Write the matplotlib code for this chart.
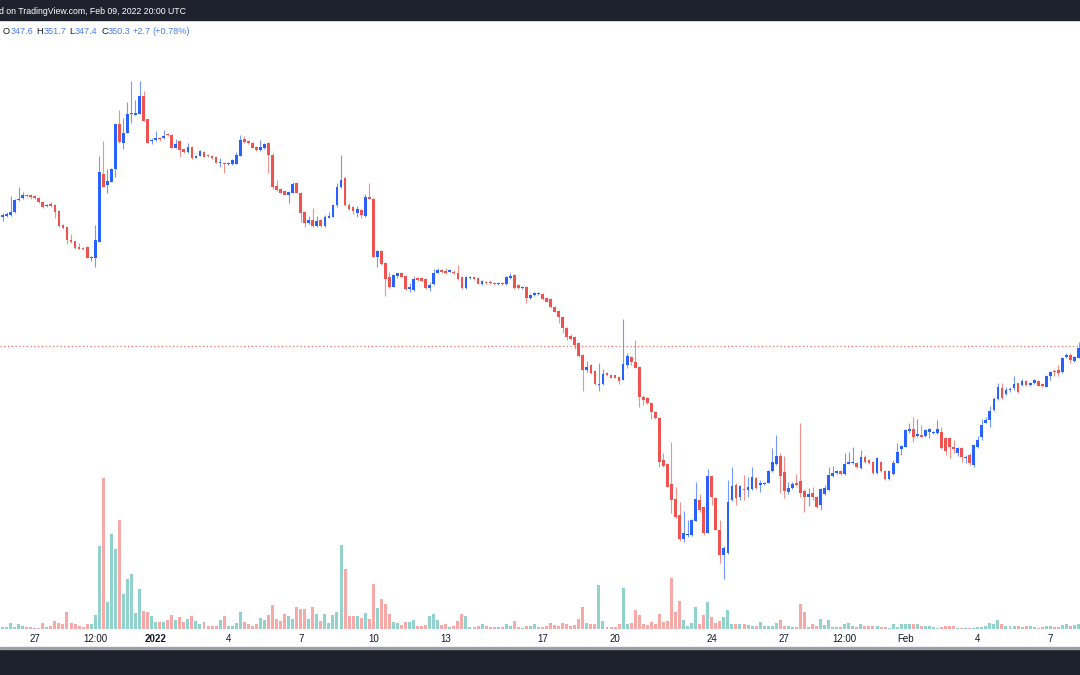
import matplotlib
matplotlib.use('Agg')
import matplotlib.pyplot as plt
import numpy as np
import pandas as pd

# 4h candles, first bar 2021-12-25 16:00 UTC
start_time = '2021-12-25 16:00'

opens = [479, 480, 481, 484, 496, 498, 501, 501, 500, 498,
         494, 490, 492, 491, 485, 471, 469, 456, 455, 449,
         448, 449, 438, 438, 454, 522, 511, 514, 527, 572,
         553, 563, 582, 581, 582, 600, 577, 555, 556, 558,
         558, 562, 561, 548, 555, 547, 544, 549, 538, 540,
         544, 541, 540, 539, 533, 533, 532, 532, 532, 540,
         557, 555, 553, 549, 546, 548, 553, 541, 510, 507,
         505, 501, 503, 513, 503, 484, 473, 476, 470, 476,
         470, 478, 479, 491, 509, 518, 491, 489, 483, 486,
         480, 499, 497, 439, 445, 433, 419, 409, 420, 423,
         420, 407, 406, 418, 418, 417, 408, 412, 423, 426,
         425, 424, 424, 423, 419, 408, 418, 419, 418, 412,
         414, 414, 413, 412, 413, 412, 418, 421, 411, 408,
         409, 398, 401, 402, 402, 398, 397, 389, 385, 379,
         368, 360, 359, 353, 341, 326, 331, 325, 311, 312,
         323, 321, 321, 319, 316, 331, 339, 334, 329, 299,
         298, 293, 284, 278, 236, 232, 212, 197, 181, 157,
         161, 161, 175, 196, 189, 163, 220, 198, 166, 141,
         143, 196, 211, 199, 207, 206, 207, 218, 211, 212,
         213, 225, 232, 240, 224, 204, 208, 213, 215, 205,
         199, 203, 199, 191, 202, 206, 220, 223, 225, 222,
         232, 233, 233, 228, 239, 236, 234, 223, 234, 225,
         217, 222, 233, 247, 249, 265, 267, 260, 261, 260,
         264, 263, 263, 264, 258, 258, 249, 243, 248, 238,
         241, 231, 249, 259, 273, 276, 286, 297, 308, 302,
         306, 308, 313, 311, 315, 311, 313, 315, 312, 309,
         320, 325, 326, 324, 339, 341, 335, 338]

highs = [483, 484, 500, 497, 509, 504, 502, 502, 501, 499,
         495, 492, 494, 492, 486, 472, 470, 462, 455, 453,
         449, 450, 440, 471, 540, 555, 527, 528, 572, 586,
         578, 594, 615, 596, 615, 605, 577, 558, 565, 559,
         566, 563, 562, 557, 556, 548, 553, 550, 541, 546,
         545, 542, 541, 540, 538, 534, 534, 537, 544, 561,
         560, 556, 554, 550, 556, 553, 554, 543, 516, 508,
         506, 505, 514, 514, 504, 485, 480, 488, 480, 477,
         481, 484, 492, 513, 541, 519, 493, 490, 490, 487,
         502, 513, 498, 446, 446, 434, 424, 422, 423, 424,
         421, 413, 420, 419, 419, 418, 414, 427, 428, 427,
         428, 427, 426, 431, 420, 420, 420, 420, 418, 416,
         415, 416, 414, 414, 414, 420, 423, 422, 412, 410,
         410, 402, 404, 404, 403, 399, 398, 390, 386, 380,
         369, 362, 360, 354, 342, 335, 332, 326, 333, 327,
         324, 322, 321, 320, 377, 343, 340, 356, 330, 301,
         299, 294, 285, 279, 243, 233, 254, 209, 194, 185,
         176, 177, 214, 202, 190, 227, 221, 199, 176, 150,
         216, 229, 213, 211, 221, 219, 229, 219, 216, 214,
         226, 248, 261, 243, 240, 214, 214, 222, 273, 207,
         208, 209, 200, 208, 211, 229, 230, 226, 226, 243,
         244, 249, 234, 246, 241, 237, 235, 239, 235, 226,
         226, 236, 253, 251, 267, 273, 279, 277, 271, 267,
         268, 265, 276, 269, 259, 259, 256, 249, 249, 241,
         243, 251, 260, 277, 279, 290, 299, 313, 313, 309,
         309, 320, 313, 317, 316, 314, 317, 316, 313, 321,
         325, 327, 331, 339, 343, 343, 340, 354]

lows = [475, 479, 480, 483, 495, 497, 499, 497, 497, 493,
        488, 489, 489, 478, 469, 467, 452, 453, 447, 447,
        446, 438, 435, 429, 454, 509, 503, 514, 519, 553,
        547, 563, 573, 581, 582, 575, 553, 552, 555, 555,
        557, 560, 548, 548, 539, 543, 543, 537, 538, 540,
        539, 539, 537, 533, 529, 523, 531, 531, 532, 540,
        553, 552, 548, 545, 545, 547, 523, 507, 505, 503,
        501, 493, 503, 503, 474, 469, 472, 469, 469, 469,
        469, 478, 479, 489, 508, 490, 486, 482, 479, 478,
        479, 497, 439, 429, 431, 400, 408, 409, 418, 419,
        406, 404, 405, 415, 415, 407, 405, 411, 423, 423,
        422, 424, 422, 416, 407, 407, 417, 416, 412, 411,
        412, 412, 411, 411, 411, 411, 417, 407, 407, 407,
        393, 397, 400, 401, 396, 394, 388, 384, 373, 363,
        356, 356, 347, 339, 305, 324, 322, 311, 305, 311,
        320, 318, 318, 312, 316, 328, 331, 328, 289, 291,
        292, 277, 277, 229, 229, 209, 183, 178, 155, 154,
        159, 160, 175, 184, 161, 163, 191, 166, 133, 117,
        142, 195, 191, 196, 196, 199, 206, 207, 204, 211,
        213, 224, 231, 203, 198, 202, 207, 210, 199, 184,
        190, 196, 188, 186, 201, 205, 219, 222, 221, 221,
        232, 232, 228, 227, 233, 232, 222, 222, 224, 216,
        216, 221, 233, 241, 249, 263, 254, 259, 259, 259,
        258, 262, 262, 247, 241, 238, 243, 240, 234, 233,
        231, 229, 248, 256, 273, 269, 285, 296, 297, 301,
        304, 306, 303, 310, 310, 310, 312, 310, 309, 309,
        316, 320, 320, 323, 338, 333, 334, 338]

closes = [481, 482, 484, 496, 497, 501, 500, 499, 498, 494,
          489, 491, 490, 484, 470, 468, 456, 454, 448, 447,
          447, 438, 439, 456, 524, 509, 515, 527, 572, 554,
          563, 582, 583, 583, 600, 575, 553, 556, 558, 557,
          560, 561, 548, 552, 546, 544, 549, 538, 540, 545,
          539, 540, 538, 533, 534, 532, 533, 536, 541, 556,
          554, 553, 548, 546, 549, 552, 541, 509, 506, 503,
          501, 504, 512, 503, 483, 473, 476, 470, 475, 470,
          479, 480, 491, 509, 516, 491, 487, 485, 487, 481,
          499, 497, 439, 445, 432, 417, 409, 421, 423, 419,
          407, 409, 417, 416, 415, 408, 411, 423, 426, 424,
          423, 426, 423, 417, 408, 419, 419, 417, 412, 415,
          413, 413, 412, 413, 412, 419, 420, 408, 408, 409,
          398, 401, 403, 403, 397, 394, 389, 384, 379, 368,
          359, 357, 351, 340, 326, 329, 323, 312, 312, 322,
          321, 318, 318, 315, 332, 340, 334, 328, 299, 296,
          293, 284, 278, 234, 230, 209, 196, 179, 157, 163,
          162, 176, 197, 186, 163, 220, 199, 166, 141, 148,
          194, 210, 198, 210, 206, 209, 219, 208, 213, 213,
          225, 234, 240, 220, 205, 208, 212, 211, 203, 199,
          202, 199, 189, 207, 208, 221, 223, 225, 222, 232,
          234, 234, 229, 239, 234, 233, 223, 238, 225, 217,
          225, 233, 244, 250, 266, 267, 259, 262, 259, 266,
          267, 264, 267, 248, 245, 249, 247, 248, 239, 239,
          233, 251, 256, 271, 276, 285, 297, 309, 298, 306,
          307, 312, 304, 315, 311, 313, 316, 310, 310, 320,
          324, 324, 323, 338, 341, 336, 339, 348]

volumes = [2, 2, 6.5, 2, 5, 3, 2, 2, 1.5, 1.5,
           6.5, 2, 3, 8, 6.5, 5.5, 17, 6, 5.5, 3.5,
           2, 5.5, 5, 14, 83, 151, 27, 95, 80, 109,
           35, 50, 55, 16, 40, 18, 17.5, 13.5, 7, 7,
           7, 9.5, 14.5, 9.5, 12.5, 7, 10, 13.5, 8, 5,
           7, 3.5, 3.5, 3.5, 9, 13, 3, 3.5, 6, 17.5,
           7, 5.5, 3, 5, 11, 9, 14.5, 24.5, 10.5, 8,
           15, 13, 10.5, 22, 20, 20, 10.5, 22.5, 15.5, 8,
           15, 6, 14, 17.5, 84, 60, 13, 13, 13, 11,
           16, 10, 45, 21, 30, 25, 15, 7, 6.5, 4,
           7.5, 7, 9, 3, 3.5, 4, 13, 15, 9, 4.5,
           5, 2.5, 3, 8.5, 15, 13.5, 2.5, 2.5, 3.5, 5.5,
           3, 2.5, 2.5, 2, 2.5, 5.5, 3, 8.5, 2.5, 1,
           3, 3, 5, 2.5, 2.5, 3, 6.5, 4.5, 3.5, 6.5,
           5, 3.5, 4.5, 10.5, 22.5, 6.5, 5, 5, 44, 8.5,
           2.5, 2.5, 2, 5, 41, 5.5, 6.5, 19, 14, 5.5,
           4.5, 7.5, 5, 15, 7.5, 8.5, 51, 17, 28, 9,
           3, 6.5, 22.5, 5, 14, 27, 12.5, 6.5, 8, 12.5,
           19, 5.5, 5, 5.5, 5.5, 4.5, 3, 3, 7, 3,
           3.5, 3.5, 6.5, 9.5, 3, 3, 2.5, 2.5, 25, 17.5,
           2.5, 5.5, 3, 10.5, 4.5, 9, 2.5, 2.5, 2.5, 5,
           6.5, 3, 2.5, 5.5, 3, 3, 3, 3, 2.5, 2.5,
           1.5, 5, 2.5, 5, 5.5, 5.5, 5, 5.5, 3.5, 3,
           3, 2.5, 1.5, 2.5, 3, 3, 3, 1.5, 1, 1.5,
           1.5, 1.5, 2.5, 2.5, 3.5, 6.5, 5, 9.5, 5.5, 3,
           3, 3.5, 3.5, 2.5, 3, 3, 2.5, 1.5, 2.5, 3.5,
           3, 2.5, 2.5, 4.5, 5, 3, 4.5, 5.5]

tick_dates = ['2021-12-27', '2021-12-29 12:00', '2022-01-01', '2022-01-04',
              '2022-01-07', '2022-01-10', '2022-01-13', '2022-01-17',
              '2022-01-20', '2022-01-24', '2022-01-27', '2022-01-29 12:00',
              '2022-02-01', '2022-02-04', '2022-02-07']
tick_labels = ['27', '12:00', '2022', '4', '7', '10', '13', '17',
               '20', '24', '27', '12:00', 'Feb', '4', '7']

last_price = 350.3
header = 'd on TradingView.com, Feb 09, 2022 20:00 UTC'
legend_keys = ['O', 'H', 'L', 'C']
legend_vals = ['347.6', '351.7', '347.4', '350.3']
legend_change = ['+2.7', '(+0.78%)']

UP = '#2962ff'
DOWN = '#ef5350'
VOL_UP = '#92d2cc'
VOL_DOWN = '#f7a9a7'
DARK = '#1e222d'
TEXT_BLUE = '#4a7cf3'

plt.rcParams['font.family'] = ['Liberation Sans', 'DejaVu Sans']

W, H = 1080, 675
fig = plt.figure(figsize=(W / 100, H / 100), dpi=100)
fig.patch.set_facecolor('white')

o = np.array(opens, float)
hi = np.array(highs, float)
lo = np.array(lows, float)
c = np.array(closes, float)
v = np.array(volumes, float)
n = len(c)
idx = np.arange(n)
times = pd.date_range(start_time, periods=n, freq='4h')
tick_pos = [(pd.Timestamp(t) - times[0]) / pd.Timedelta('4h') for t in tick_dates]

up = c >= o
px_per_bar = 4.03
rect = [0, (H - 629) / H, 1, (629 - 20) / H]

# volume pane (behind)
vax = fig.add_axes(rect)
vax.bar(idx, v, width=0.74, color=np.where(up, VOL_UP, VOL_DOWN), linewidth=0)
vax.set_ylim(0, 609)
vax.set_xlim(-2.5 / px_per_bar, (W - 2.5) / px_per_bar)
vax.set_facecolor('white')
for s in vax.spines.values():
    s.set_visible(False)
vax.tick_params(left=False, labelleft=False, bottom=False, labelbottom=False)

# candles
ax = fig.add_axes(rect, sharex=vax)
ax.set_facecolor('none')
wick_cols = [(0.16, 0.38, 1.0, 0.65) if u else (0.94, 0.33, 0.31, 0.65) for u in up]
ax.vlines(idx, lo, hi, colors=wick_cols, linewidth=0.8)
body_bottom = np.minimum(o, c)
body_h = np.maximum(np.abs(c - o), 1.0)
ax.bar(idx, body_h, bottom=body_bottom, width=0.68,
       color=np.where(up, UP, DOWN), linewidth=0)
ax.axhline(last_price, color=DOWN, lw=0.9, ls=(0, (1, 2)), alpha=0.85)
ax.set_ylim(67, 676)
ax.set_yticks([])
for s in ax.spines.values():
    s.set_visible(False)
ax.set_xticks(tick_pos, tick_labels)
ax.tick_params(axis='x', length=0, pad=3.5, labelsize=7, labelcolor='#131722')
for lab in ax.get_xticklabels():
    if lab.get_text() == '2022':
        lab.set_fontweight('bold')

# top and bottom bars
fig.add_artist(plt.Rectangle((0, 1 - 20 / H), 1, 20 / H, transform=fig.transFigure,
                             color=DARK, zorder=5))
fig.add_artist(plt.Rectangle((0, 0), 1, 26 / H, transform=fig.transFigure,
                             color=DARK, zorder=5))
fig.add_artist(plt.Rectangle((0, 26 / H), 1, 2 / H, transform=fig.transFigure,
                             color='#9ea1a9', zorder=5))

fig.text(-1 / W, 1 - 11 / H, header, color='white', fontsize=6.3,
         va='center', ha='left', zorder=6)

# OHLC legend: key letter followed directly by its value
renderer = fig.canvas.get_renderer()
group_x = [3, 36.5, 69, 101]
ly = 1 - 31 / H
fs = 6.6
for k, val, gx in zip(legend_keys, legend_vals, group_x):
    t = fig.text(gx / W, ly, k, color='#131722', fontsize=fs, va='center', zorder=6)
    kw = t.get_window_extent(renderer).width
    fig.text((gx + kw + 0.3) / W, ly, val, color=TEXT_BLUE, fontsize=fs,
             va='center', zorder=6)
fig.text(133 / W, ly, legend_change[0], color=TEXT_BLUE, fontsize=fs, va='center', zorder=6)
fig.text(152 / W, ly, legend_change[1], color=TEXT_BLUE, fontsize=fs, va='center', zorder=6)

fig.savefig('out.png', dpi=100, facecolor='white')
